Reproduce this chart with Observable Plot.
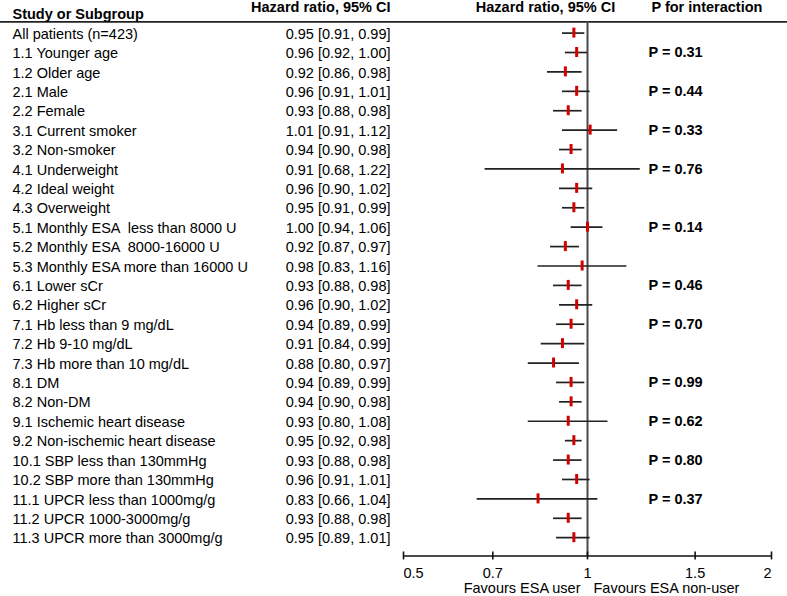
<!DOCTYPE html>
<html><head><meta charset="utf-8">
<script src="https://cdn.jsdelivr.net/npm/d3@7"></script>
<script src="https://cdn.jsdelivr.net/npm/@observablehq/plot@0.6"></script>
<style>
body{margin:0;background:#fff;}
svg text{white-space:pre;}
</style>
</head><body><div id="chart"></div>
<script>
const labels = [
  "All patients (n=423)",
  "1.1 Younger age", "1.2 Older age",
  "2.1 Male", "2.2 Female",
  "3.1 Current smoker", "3.2 Non-smoker",
  "4.1 Underweight", "4.2 Ideal weight", "4.3 Overweight",
  "5.1 Monthly ESA  less than 8000 U", "5.2 Monthly ESA  8000-16000 U", "5.3 Monthly ESA more than 16000 U",
  "6.1 Lower sCr", "6.2 Higher sCr",
  "7.1 Hb less than 9 mg/dL", "7.2 Hb 9-10 mg/dL", "7.3 Hb more than 10 mg/dL",
  "8.1 DM", "8.2 Non-DM",
  "9.1 Ischemic heart disease", "9.2 Non-ischemic heart disease",
  "10.1 SBP less than 130mmHg", "10.2 SBP more than 130mmHg",
  "11.1 UPCR less than 1000mg/g", "11.2 UPCR 1000-3000mg/g", "11.3 UPCR more than 3000mg/g"
];
const hr = [0.95, 0.96, 0.92, 0.96, 0.93, 1.01, 0.94, 0.91, 0.96, 0.95, 1.00, 0.92, 0.98, 0.93, 0.96, 0.94, 0.91, 0.88, 0.94, 0.94, 0.93, 0.95, 0.93, 0.96, 0.83, 0.93, 0.95];
const lo = [0.91, 0.92, 0.86, 0.91, 0.88, 0.91, 0.90, 0.68, 0.90, 0.91, 0.94, 0.87, 0.83, 0.88, 0.90, 0.89, 0.84, 0.80, 0.89, 0.90, 0.80, 0.92, 0.88, 0.91, 0.66, 0.88, 0.89];
const hi = [0.99, 1.00, 0.98, 1.01, 0.98, 1.12, 0.98, 1.22, 1.02, 0.99, 1.06, 0.97, 1.16, 0.98, 1.02, 0.99, 0.99, 0.97, 0.99, 0.98, 1.08, 0.98, 0.98, 1.01, 1.04, 0.98, 1.01];

const pValues = ["P = 0.31", "P = 0.44", "P = 0.33", "P = 0.76", "P = 0.14", "P = 0.46", "P = 0.70", "P = 0.99", "P = 0.62", "P = 0.80", "P = 0.37"];
const pBesideRow = ["1.1 Younger age", "2.1 Male", "3.1 Current smoker", "4.1 Underweight", "5.1 Monthly ESA  less than 8000 U", "6.1 Lower sCr", "7.1 Hb less than 9 mg/dL", "8.1 DM", "9.1 Ischemic heart disease", "10.1 SBP less than 130mmHg", "11.1 UPCR less than 1000mg/g"];

const xTicks = [0.5, 0.7, 1, 1.5, 2];
const xTickLabels = ["0.5", "0.7", "1", "1.5", "2"];

const headerLeft = "Study or Subgroup";
const headerCI = "Hazard ratio, 95% CI";
const headerP = "P for interaction";
const favourLeft = "Favours ESA user";
const favourRight = "Favours ESA non-user";

const rows = labels.map((label, i) => ({
  i, label, hr: hr[i], lo: lo[i], hi: hi[i],
  ci: `${hr[i].toFixed(2)} [${lo[i].toFixed(2)}, ${hi[i].toFixed(2)}]`
}));
const pRows = pValues.map((p, k) => ({p, i: labels.indexOf(pBesideRow[k])}));
const ticks = xTicks.map((v, k) => ({v, t: xTickLabels[k], k}));

const headerRow = -0.58;
const axisRow = 26.94;
const font = "Liberation Sans, Arial, Helvetica, sans-serif";
const fs = 14.5;

const chart = Plot.plot({
  width: 787,
  height: 596,
  marginLeft: 0, marginRight: 0, marginTop: 0, marginBottom: 0,
  style: {fontFamily: font, fontSize: fs + "px", background: "#fff", color: "#000"},
  x: {type: "log", domain: [0.5, 2], range: [403, 771], axis: null},
  y: {domain: [0, 26], range: [32.6, 537.2], axis: null},
  marks: [
    // header line across the full width
    Plot.ruleY([headerRow], {stroke: "#222", strokeWidth: 1.6}),
    // line of no effect
    Plot.ruleX([1], {y1: headerRow, y2: axisRow, stroke: "#4a4a4a", strokeWidth: 2}),
    // confidence intervals
    Plot.ruleY(rows, {y: "i", x1: "lo", x2: "hi", stroke: "#222", strokeWidth: 1.7}),
    // point estimates
    Plot.ruleX(rows, {x: "hr", y1: "i", y2: "i", insetTop: -5, insetBottom: -5, stroke: "#d40000", strokeWidth: 3}),
    // row labels
    Plot.text(rows, {y: "i", text: "label", frameAnchor: "left", textAnchor: "start", dx: 12, dy: 1, fill: "#000", fontSize: fs}),
    // HR text column
    Plot.text(rows, {y: "i", text: "ci", frameAnchor: "left", textAnchor: "end", dx: 390, dy: 1, fill: "#000", fontSize: fs}),
    // P for interaction
    Plot.text(pRows, {y: "i", text: "p", frameAnchor: "left", textAnchor: "start", dx: 648, fontWeight: "bold", fill: "#000", fontSize: fs}),
    // headers
    Plot.text([headerLeft], {text: d => d, frameAnchor: "top-left", lineAnchor: "middle", textAnchor: "start", dx: 12, dy: 14, fontWeight: "bold", fontSize: fs, fill: "#000"}),
    Plot.text([headerCI], {text: d => d, frameAnchor: "top-left", lineAnchor: "middle", textAnchor: "end", dx: 390, dy: 7, fontWeight: "bold", fontSize: fs, fill: "#000"}),
    Plot.text([headerCI], {text: d => d, frameAnchor: "top-left", lineAnchor: "middle", textAnchor: "middle", dx: 545, dy: 7, fontWeight: "bold", fontSize: fs, fill: "#000"}),
    Plot.text([headerP], {text: d => d, frameAnchor: "top-left", lineAnchor: "middle", textAnchor: "start", dx: 651, dy: 7, fontWeight: "bold", fontSize: fs, fill: "#000"}),
    // x axis
    Plot.ruleY([axisRow], {x1: 0.5, x2: 2, stroke: "#111", strokeWidth: 1.6}),
    Plot.ruleX(ticks, {x: "v", y1: () => axisRow, y2: () => axisRow, insetTop: -4, insetBottom: -4, stroke: "#111", strokeWidth: 1.6}),
    Plot.text(ticks.filter(d => d.k === 0), {x: "v", y: () => axisRow, text: "t", dy: 17, textAnchor: "start", fill: "#000", fontSize: fs}),
    Plot.text(ticks.filter(d => d.k > 0 && d.k < ticks.length - 1), {x: "v", y: () => axisRow, text: "t", dy: 17, textAnchor: "middle", fill: "#000", fontSize: fs}),
    Plot.text(ticks.filter(d => d.k === ticks.length - 1), {x: "v", y: () => axisRow, text: "t", dy: 17, textAnchor: "end", fill: "#000", fontSize: fs}),
    Plot.text([favourLeft], {x: () => 1, y: () => axisRow, text: d => d, dx: -7, dy: 32, textAnchor: "end", fill: "#000", fontSize: fs}),
    Plot.text([favourRight], {x: () => 1, y: () => axisRow, text: d => d, dx: 6, dy: 32, textAnchor: "start", fill: "#000", fontSize: fs})
  ]
});
document.getElementById("chart").appendChild(chart);
</script>
</body></html>
